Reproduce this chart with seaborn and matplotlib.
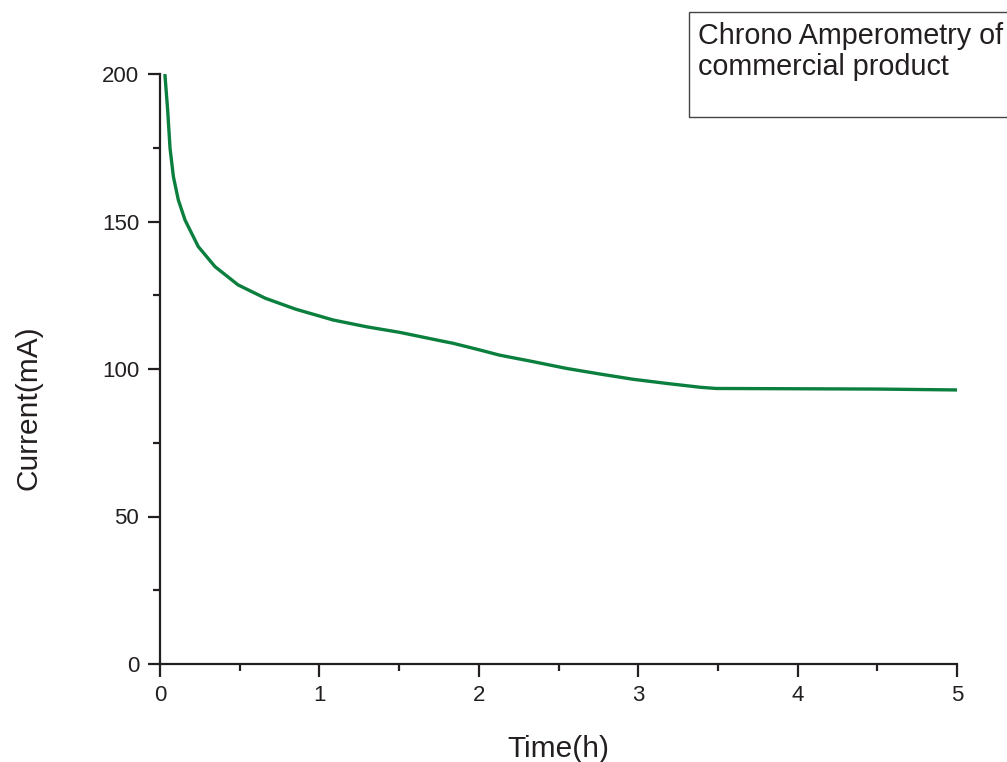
import matplotlib
matplotlib.use("Agg")
import matplotlib.pyplot as plt
import seaborn as sns
import pandas as pd
from matplotlib.patches import Rectangle
from matplotlib.ticker import MultipleLocator

time_h = [0.031, 0.048, 0.063, 0.084, 0.115, 0.157, 0.24, 0.345, 0.49, 0.66, 0.85,
          1.087, 1.297, 1.506, 1.757, 1.84, 2.01, 2.13, 2.34, 2.55, 2.76, 2.97,
          3.18, 3.39, 3.49, 4.0, 4.5, 5.0]
current_mA = [199.7, 187.8, 174.8, 165.2, 157.3, 150.5, 141.5, 134.7, 128.5, 124.0, 120.3,
              116.6, 114.3, 112.4, 109.6, 108.7, 106.4, 104.7, 102.5, 100.2, 98.3, 96.5,
              95.1, 93.8, 93.4, 93.3, 93.2, 92.9]

sns.set_style("ticks")
plt.rcParams['font.family'] = ['Liberation Sans', 'DejaVu Sans']

df = pd.DataFrame({"Time(h)": time_h, "Current(mA)": current_mA})

fig = plt.figure(figsize=(10.07, 7.62), dpi=100)
ax = fig.add_axes([160/1007, 1-664/762, (957-160)/1007, (664-74)/762])
sns.lineplot(data=df, x="Time(h)", y="Current(mA)", ax=ax, color="#0b7f3e", linewidth=2.4)

ax.set_xlim(0, 5)
ax.set_ylim(0, 200)
ax.xaxis.set_major_locator(MultipleLocator(1))
ax.xaxis.set_minor_locator(MultipleLocator(0.5))
ax.yaxis.set_major_locator(MultipleLocator(50))
ax.yaxis.set_minor_locator(MultipleLocator(25))
for s in ["top", "right"]:
    ax.spines[s].set_visible(False)
for s in ["left", "bottom"]:
    ax.spines[s].set_linewidth(1.6)
    ax.spines[s].set_color("#231f20")
ax.tick_params(which="major", length=9, width=1.6, color="#231f20", labelsize=16,
               labelcolor="#231f20", pad=6, direction="out")
ax.tick_params(which="minor", length=5, width=1.6, color="#231f20", direction="out")
ax.set_xlabel("Time(h)", fontsize=21.5, labelpad=21, color="#231f20")
ax.set_ylabel("Current(mA)", fontsize=21.5, color="#231f20")
ax.yaxis.set_label_coords((43-160)/797, (664-408)/590)

fig.patches.append(Rectangle((689/1007, 1-117/762), 0.4, 105/762, transform=fig.transFigure,
                             fill=False, edgecolor="#444444", linewidth=1.0))
fig.text(698/1007, 1-22/762, "Chrono Amperometry of\ncommercial product",
         fontsize=20.7, va="top", ha="left", color="#231f20", linespacing=1.12)

fig.savefig("out.png", dpi=100)
